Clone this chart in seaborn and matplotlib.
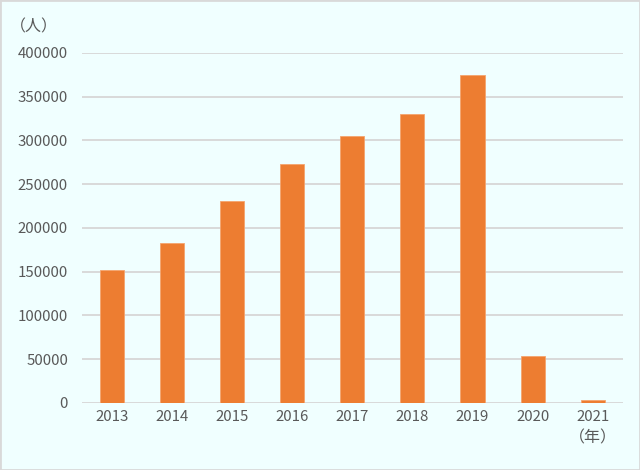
import matplotlib
matplotlib.use("Agg")
import matplotlib.pyplot as plt
import pandas as pd
import seaborn as sns

years = ["2013", "2014", "2015", "2016", "2017", "2018", "2019", "2020", "2021"]
visitors = [152000, 183000, 231000, 273000, 305000, 330000, 375000, 53500, 3200]
y_ticks = [0, 50000, 100000, 150000, 200000, 250000, 300000, 350000, 400000]

sns.set_theme(style="white")
plt.rcParams["font.family"] = ["Noto Sans CJK JP", "DejaVu Sans"]

bg = "#F0FFFF"
text_color = "#595959"

df = pd.DataFrame({"year": years, "visitors": visitors})

fig = plt.figure(figsize=(6.4, 4.7), dpi=100, facecolor=bg)
ax = fig.add_axes([0.128, 0.1426, 0.845, 0.7447])
ax.set_facecolor(bg)

sns.barplot(data=df, x="year", y="visitors", color="#ED7D31", width=0.4,
            saturation=1, edgecolor="#F4A46E", linewidth=0.6, ax=ax, zorder=3)

ax.set_ylim(0, 400000)
ax.set_yticks(y_ticks)
ax.set_yticklabels([str(v) for v in y_ticks])
ax.grid(axis="y", color="#D9D9D9", linewidth=1.4, zorder=0)
ax.set_axisbelow(True)
for s in ax.spines.values():
    s.set_visible(False)
ax.tick_params(axis="both", length=0, labelsize=10.8, labelcolor=text_color)
ax.tick_params(axis="y", pad=10)
ax.tick_params(axis="x", pad=5)
ax.set_xlabel("")
ax.set_ylabel("")

fig.text(0.016, 0.9426, "（人）", fontsize=11.5, color=text_color, va="center", ha="left")
fig.text(0.926, 0.068, "（年）", fontsize=11.5, color=text_color, va="center", ha="center")

border = plt.Rectangle((0, 0), 1, 1, transform=fig.transFigure, fill=False,
                       edgecolor="#D9D9D9", linewidth=2)
fig.patches.append(border)

fig.savefig("out.png", dpi=100, facecolor=bg)
